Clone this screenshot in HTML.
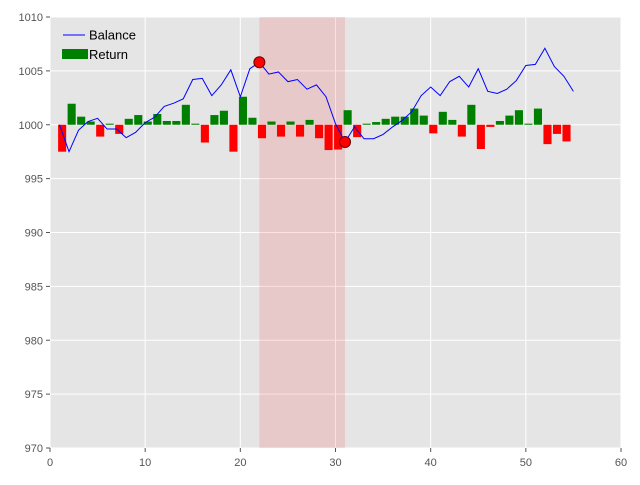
<!DOCTYPE html>
<html><head><meta charset="utf-8"><style>
body{margin:0;background:#fff;font-family:"Liberation Sans","DejaVu Sans",sans-serif}
</style></head><body>
<svg id="chart" width="640" height="480" xmlns="http://www.w3.org/2000/svg">
<rect x="0" y="0" width="640" height="480" fill="#fff"/>
<rect x="50" y="17" width="571" height="431" fill="#e5e5e5"/>
<g id="grid"></g><g id="shade"></g><g id="bars"></g><g id="line"></g><g id="marks"></g><g id="axes"></g>
<g>
<line x1="63" y1="35" x2="85" y2="35" stroke="#0000ff" stroke-width="1"/>
<text x="89" y="39.5" font-size="13" fill="#000">Balance</text>
<rect x="62" y="49" width="26" height="10" fill="#008000"/>
<text x="89" y="59" font-size="13" fill="#000">Return</text>
</g>
</svg>
<script>
const balance=[1000,997.5,999.5,1000.3,1000.6,999.6,999.6,998.8,999.3,1000.2,1000.7,1001.7,1002.0,1002.4,1004.2,1004.3,1002.7,1003.7,1005.1,1002.6,1005.2,1005.8,1004.7,1004.9,1004.0,1004.2,1003.3,1003.7,1002.6,1000.1,998.4,999.8,998.7,998.7,999.1,999.8,1000.4,1001.2,1002.7,1003.5,1002.7,1004.0,1004.5,1003.5,1005.2,1003.1,1002.9,1003.3,1004.1,1005.5,1005.6,1007.1,1005.4,1004.5,1003.1];
const returns=[-2.5,1.95,0.75,0.3,-1.1,0.1,-0.85,0.55,0.9,0.3,1.0,0.35,0.35,1.85,0.1,-1.65,0.9,1.3,-2.5,2.6,0.65,-1.25,0.3,-1.1,0.3,-1.1,0.45,-1.25,-2.35,-2.3,1.35,-1.15,0.1,0.25,0.55,0.75,0.75,1.5,0.85,-0.8,1.2,0.45,-1.1,1.85,-2.25,-0.2,0.35,0.85,1.35,0.1,1.5,-1.8,-0.85,-1.55];
const markerX=[22,31];
const shadeRange=[22,31];
const xTicks=[0,10,20,30,40,50,60];
const yTicks=[970,975,980,985,990,995,1000,1005,1010];
const NS="http://www.w3.org/2000/svg";
const X=v=>50+(v-0)*571/60, Y=v=>448-(v-970)*431/40;
function mk(tag,attrs,parent){const e=document.createElementNS(NS,tag);for(const k in attrs)e.setAttribute(k,attrs[k]);document.getElementById(parent).appendChild(e);return e;}
xTicks.forEach(t=>{const g=mk('line',{x1:X(t),x2:X(t),y1:17,y2:448,stroke:'#fff','stroke-width':1},'grid');


const tk=mk('line',{x1:X(t),x2:X(t),y1:448,y2:452,stroke:'#555'},'axes');


const l=mk('text',{x:X(t),y:466,'text-anchor':'middle','font-size':11,fill:'#555'},'axes');l.textContent=t;

});
yTicks.forEach(t=>{const g=mk('line',{x1:50,x2:621,y1:Y(t),y2:Y(t),stroke:'#fff','stroke-width':1},'grid');


const tk=mk('line',{x1:46,x2:50,y1:Y(t),y2:Y(t),stroke:'#555'},'axes');


const l=mk('text',{x:43,y:Y(t)+4,'text-anchor':'end','font-size':11,fill:'#555'},'axes');l.textContent=t;

});
const sh=mk('rect',{x:X(shadeRange[0]),y:17,width:X(shadeRange[1])-X(shadeRange[0]),height:431,fill:'#ff0000','fill-opacity':0.12},'shade');


returns.forEach((r,i)=>{const x=i+1;const y0=Y(1000),y1=Y(1000+r);
const b=mk('rect',{x:X(x-0.15),width:X(0.85)-X(0),y:Math.min(y0,y1),height:Math.max(Math.abs(y1-y0),0.8),fill:r>=0?'#008000':'#ff0000'},'bars');

});
const pl=mk('polyline',{points:balance.map((v,i)=>X(i+1)+','+Y(v)).join(' '),fill:'none',stroke:'#0000ff','stroke-width':1},'line');


markerX.forEach(x=>{const c=mk('circle',{cx:X(x),cy:Y(balance[x-1]),r:5.5,fill:'#ff0000',stroke:'#6b0000','stroke-width':1},'marks');

});
</script>
</body></html>
